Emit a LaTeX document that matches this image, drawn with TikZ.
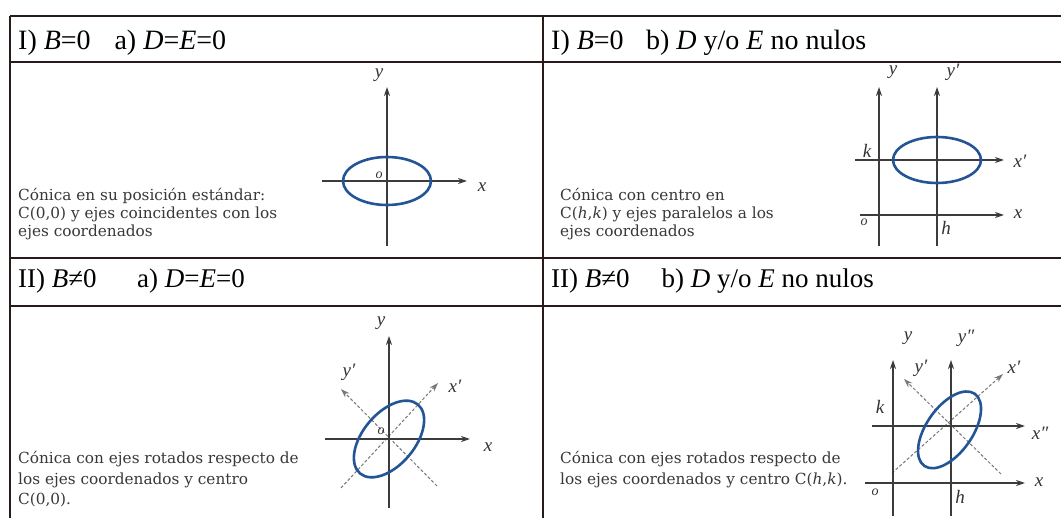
\documentclass[tikz,border=0pt]{standalone}
\usepackage{fontspec}
\setmainfont{Liberation Serif}
\newfontfamily\bodyfont{DejaVu Serif}
\usetikzlibrary{arrows.meta}
\definecolor{rulecol}{RGB}{40,28,26}
\definecolor{axiscol}{RGB}{60,60,60}
\definecolor{coniccol}{RGB}{35,85,150}
\definecolor{dashgray}{RGB}{120,120,120}
\tikzset{
  tline/.style={rulecol, line width=1.8pt},
  axisline/.style={axiscol, line width=1.5pt, -{Stealth[length=9pt,width=6pt]}},
  rotaxis/.style={dashgray, line width=1pt, dash pattern=on 3pt off 2pt, -{Stealth[length=9pt,width=6pt]}},
  conicline/.style={coniccol, line width=2.6pt},
  head/.style={anchor=base west, inner sep=0pt, font=\fontsize{28}{30}\selectfont},
  headb/.style={anchor=base west, inner sep=0pt, font=\fontsize{27}{29}\selectfont},
  body/.style={anchor=base west, inner sep=0pt, text=black!78, font=\bodyfont\fontsize{15.3}{17}\selectfont},
  lab/.style={inner sep=0pt, text=black!80, font=\fontsize{19}{20}\selectfont\itshape},
  olab/.style={inner sep=0pt, text=black!80, font=\fontsize{14}{14}\selectfont\itshape},
}
\begin{document}
\begin{tikzpicture}[x=1pt,y=-1pt]
\useasboundingbox (0,0) rectangle (1061,518);
\fill[white] (0,0) rectangle (1061,518);
% table
\coordinate (TL) at (10,16); \coordinate (TR) at (1061,16);
\coordinate (H1L) at (10,62); \coordinate (H1R) at (1061,62);
\coordinate (R1L) at (10,258); \coordinate (R1R) at (1061,258);
\coordinate (H2L) at (10,306); \coordinate (H2R) at (1061,306);
\coordinate (BL) at (10,518); \coordinate (MT) at (543,16); \coordinate (MB) at (543,518);
\draw[tline] (TL) -- (TR);
\draw[tline] (H1L) -- (H1R);
\draw[tline] (R1L) -- (R1R);
\draw[tline] (H2L) -- (H2R);
\draw[tline] (TL) -- (BL);
\draw[tline] (MT) -- (MB);
% headers
\node[head] (h1) at (18,50) {I) \textit{B}=0\hspace{0.6em} a) \textit{D}=\textit{E}=0};
\node[head] (h2) at (551,50) {I) \textit{B}=0\hspace{0.55em} b) \textit{D} y/o \textit{E} no nulos};
\node[headb] (h3) at (18,288) {II) \textit{B}≠0\hspace{1.25em} a) \textit{D}=\textit{E}=0};
\node[headb] (h4) at (551,288) {II) \textit{B}≠0\hspace{0.93em} b) \textit{D} y/o \textit{E} no nulos};
% body texts
\node[body] (t1a) at (18,201) {Cónica en su posición estándar:};
\node[body] (t1b) at (18,219) {C(0,0) y ejes coincidentes con los};
\node[body] (t1c) at (18,237) {ejes coordenados};
\node[body] (t2a) at (560,201) {Cónica con centro en};
\node[body] (t2b) at (560,219) {C(\textit{h},\textit{k}) y ejes paralelos a los};
\node[body] (t2c) at (560,237) {ejes coordenados};
\node[body] (t3a) at (18,464) {Cónica con ejes rotados respecto de};
\node[body] (t3b) at (18,485) {los ejes coordenados y centro};
\node[body] (t3c) at (18,504) {C(0,0).};
\node[body] (t4a) at (560,464) {Cónica con ejes rotados respecto de};
\node[body] (t4b) at (560,485) {los ejes coordenados y centro C(\textit{h},\textit{k}).};
% ---- panel 1
\coordinate (p1c) at (387,181);
\coordinate (p1yb) at (387,246); \coordinate (p1yt) at (387,87);
\coordinate (p1xl) at (322,181); \coordinate (p1xr) at (467,181);
\draw[axisline] (p1yb) -- (p1yt);
\draw[axisline] (p1xl) -- (p1xr);
\draw[conicline] (p1c) ellipse [x radius=44, y radius=24];
\node[lab] (p1y) at (379,75) {y};
\node[lab] (p1x) at (482,187) {x};
\node[olab] (p1o) at (379,175) {o};
% ---- panel 2
\coordinate (p2c) at (937,160);
\coordinate (p2yb) at (879,246); \coordinate (p2yt) at (879,87);
\coordinate (p2ypb) at (937,246); \coordinate (p2ypt) at (937,87);
\coordinate (p2xpl) at (855,160); \coordinate (p2xpr) at (1004,160);
\coordinate (p2xl) at (860,215); \coordinate (p2xr) at (1004,215);
\draw[axisline] (p2yb) -- (p2yt);
\draw[axisline] (p2ypb) -- (p2ypt);
\draw[axisline] (p2xpl) -- (p2xpr);
\draw[axisline] (p2xl) -- (p2xr);
\draw[conicline] (p2c) ellipse [x radius=44, y radius=23];
\node[lab] (p2y) at (893,72) {y};
\node[lab] (p2yp) at (953,72) {y′};
\node[lab] (p2xp) at (1020,161) {x′};
\node[lab] (p2x) at (1018,214) {x};
\node[lab] (p2k) at (867,151) {k};
\node[lab] (p2h) at (946,228) {h};
\node[olab] (p2o) at (864,222) {o};
% ---- panel 3
\coordinate (p3c) at (389,439);
\coordinate (p3yb) at (389,508); \coordinate (p3yt) at (389,336);
\coordinate (p3xl) at (325,439); \coordinate (p3xr) at (470,439);
\coordinate (p3xpb) at (341,488); \coordinate (p3xpt) at (438,383);
\coordinate (p3ypb) at (437,486); \coordinate (p3ypt) at (341,389);
\draw[rotaxis] (p3xpb) -- (p3xpt);
\draw[rotaxis] (p3ypb) -- (p3ypt);
\draw[axisline] (p3yb) -- (p3yt);
\draw[axisline] (p3xl) -- (p3xr);
\draw[conicline, rotate around={50:(p3c)}] (p3c) ellipse [x radius=45, y radius=26];
\node[lab] (p3y) at (381,323) {y};
\node[lab] (p3x) at (488,447) {x};
\node[lab] (p3xp) at (455,386) {x′};
\node[lab] (p3yp) at (349,372) {y′};
\node[olab] (p3o) at (381,431) {o};
% ---- panel 4
\coordinate (p4c) at (951,426);
\coordinate (p4yb) at (893,516); \coordinate (p4yt) at (893,360);
\coordinate (p4ypb) at (951,516); \coordinate (p4ypt) at (951,360);
\coordinate (p4xpl) at (872,426); \coordinate (p4xpr) at (1025,426);
\coordinate (p4xl) at (865,483); \coordinate (p4xr) at (1025,483);
\coordinate (p4dxb) at (892,473); \coordinate (p4dxt) at (1003,374);
\coordinate (p4dyb) at (1001,474); \coordinate (p4dyt) at (904,379);
\draw[rotaxis] (p4dxb) -- (p4dxt);
\draw[rotaxis] (p4dyb) -- (p4dyt);
\draw[axisline] (p4yb) -- (p4yt);
\draw[axisline] (p4ypb) -- (p4ypt);
\draw[axisline] (p4xpl) -- (p4xpr);
\draw[axisline] (p4xl) -- (p4xr);
\draw[conicline, rotate around={55:(p4c)}] (947,427) ellipse [x radius=44, y radius=23];
\node[lab] (p4y) at (908,338) {y};
\node[lab] (p4ypp) at (966,338) {y″};
\node[lab] (p4yp) at (921,368) {y′};
\node[lab] (p4xp) at (1014,367) {x′};
\node[lab] (p4xpp) at (1040,433) {x″};
\node[lab] (p4x) at (1039,482) {x};
\node[lab] (p4k) at (880,407) {k};
\node[lab] (p4h) at (960,497) {h};
\node[olab] (p4o) at (875,492) {o};
\end{tikzpicture}
\end{document}
